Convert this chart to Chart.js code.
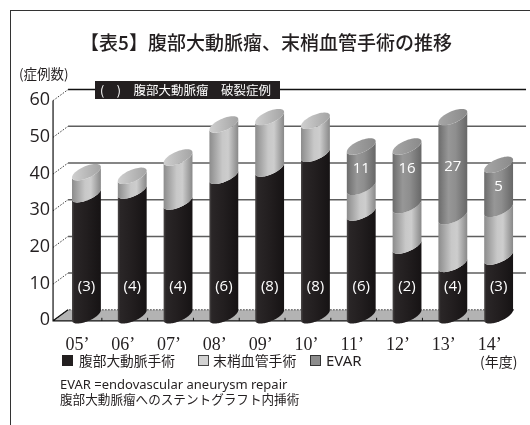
<!DOCTYPE html>
<html><head><meta charset="utf-8">
<script src="https://cdn.jsdelivr.net/npm/chart.js@4.4.1/dist/chart.umd.min.js"></script>
<style>
html,body{margin:0;padding:0;background:#fff;}
#wrap{position:relative;width:530px;height:425px;overflow:hidden;font-family:"Noto Sans CJK JP","Noto Sans",sans-serif;color:#231f20;}
canvas{position:absolute;left:0;top:0;}
.t{position:absolute;white-space:nowrap;line-height:1;}
.sq{position:absolute;width:9px;height:9px;box-sizing:content-box;}
</style></head><body>
<div id="wrap">
<canvas id="c" width="530" height="425"></canvas>
<div style="position:absolute;left:10px;top:10px;width:540px;height:440px;border-left:1px solid #333;border-top:1px solid #333;"></div>
<div class="t" style="left:266px;top:32px;transform:translateX(-50%);font-size:19px;font-weight:500;">【表5】腹部大動脈瘤、末梢血管手術の推移</div>
<div class="t" style="left:19px;top:67px;font-size:13.5px;">(症例数)</div>
<div class="t" style="left:95px;top:81px;width:185px;height:18px;background:#231f20;color:#fff;font-size:12.5px;line-height:18px;padding-left:5px;box-sizing:border-box;">(　)　腹部大動脈瘤　破裂症例</div>
<div class="sq" style="left:62px;top:355px;background:#231f20;border:1px solid #231f20;"></div>
<div class="t" style="left:79px;top:354px;font-size:13.7px;">腹部大動脈手術</div>
<div class="sq" style="left:198px;top:355px;background:#d2d2d2;border:1px solid #444;"></div>
<div class="t" style="left:213px;top:354px;font-size:13.9px;">末梢血管手術</div>
<div class="sq" style="left:310px;top:355px;background:#8c8c8c;border:1px solid #333;"></div>
<div class="t" style="left:326px;top:353px;font-size:15px;font-family:'Noto Sans',sans-serif;">EVAR</div>
<div class="t" style="left:480px;top:354px;font-size:14px;">(年度)</div>
<div class="t" style="left:60px;top:378px;font-size:13px;font-family:'Noto Sans',sans-serif;">EVAR =endovascular aneurysm repair</div>
<div class="t" style="left:60px;top:393px;font-size:12.6px;">腹部大動脈瘤へのステントグラフト内挿術</div>
</div>
<script>
const cats = ['05’','06’','07’','08’','09’','10’','11’','12’','13’','14’'];
const abdominal = [33, 34, 31, 38, 40, 44, 28, 19, 14, 16];
const peripheral = [6, 4, 12, 14, 14, 9, 7, 11, 13, 13];
const evar = [0, 0, 0, 0, 0, 0, 11, 16, 27, 12];
const ruptured = ['(3)','(4)','(4)','(6)','(8)','(8)','(6)','(2)','(4)','(3)'];
const evarLabels = ['','','','','','','11','16','27','5'];
const yMin = 0, yMax = 60, yStep = 10;

const D = 5.2, B = 6.4;      // ellipse tilt and half-height
const DX = 7.5, DY = 5.5;    // half depth offset

const sideStops = [
  [[0,'#4a4747'],[0.08,'#2a2627'],[0.5,'#221e1f'],[1,'#161314']],
  [[0,'#8c8c8c'],[0.45,'#c8c8c8'],[0.65,'#cdcdcd'],[1,'#888888']],
  [[0,'#6c6c6c'],[0.35,'#979797'],[0.6,'#8e8e8e'],[1,'#676767']]
];
const topStops = [
  [[0,'#3a3737'],[1,'#2a2627']],
  [[0,'#cfcfcf'],[1,'#a4a4a4']],
  [[0,'#a6a6a6'],[1,'#8a8a8a']]
];

function ellPt(cx, cy, r, t){ return [cx + r*Math.cos(t), cy - D*Math.cos(t) + B*Math.sin(t)]; }
function grad(ctx, x0, x1, stops){
  const g = ctx.createLinearGradient(x0, 0, x1, 0);
  stops.forEach(s => g.addColorStop(s[0], s[1]));
  return g;
}
function drawSide(ctx, cx, yb, yt, r, stops){
  const N = 40;
  ctx.beginPath();
  let p = ellPt(cx, yt, r, Math.PI); ctx.moveTo(p[0], p[1]);
  for (let k = 0; k <= N; k++){ p = ellPt(cx, yb, r, Math.PI - Math.PI*k/N); ctx.lineTo(p[0], p[1]); }
  for (let k = 0; k <= N; k++){ p = ellPt(cx, yt, r, Math.PI*k/N); ctx.lineTo(p[0], p[1]); }
  ctx.closePath();
  ctx.fillStyle = grad(ctx, cx - r, cx + r, stops);
  ctx.fill();
}
function drawTop(ctx, cx, yt, r, stops){
  const N = 60;
  ctx.beginPath();
  for (let k = 0; k <= N; k++){ const p = ellPt(cx, yt, r, 2*Math.PI*k/N); k ? ctx.lineTo(p[0], p[1]) : ctx.moveTo(p[0], p[1]); }
  ctx.closePath();
  ctx.fillStyle = grad(ctx, cx - r, cx + r, stops);
  ctx.fill();
}

const scene = {
  id: 'scene',
  beforeDatasetsDraw(chart){
    const ctx = chart.ctx, ca = chart.chartArea, ys = chart.scales.y;
    const axX = ca.left - 3, rightX = ca.right - 3, floorR = ca.right - 15;
    const y0 = ys.getPixelForValue(0);
    ctx.save();
    // floor
    ctx.beginPath();
    ctx.moveTo(axX - DX, y0 + DY); ctx.lineTo(floorR - DX, y0 + DY);
    ctx.lineTo(floorR + DX, y0 - DY); ctx.lineTo(axX + DX, y0 - DY); ctx.closePath();
    ctx.fillStyle = '#b3b3b3'; ctx.fill();
    ctx.setLineDash([1.5, 1.5]); ctx.strokeStyle = '#333'; ctx.lineWidth = 1;
    ctx.beginPath();
    ctx.moveTo(floorR - DX, y0 + DY); ctx.lineTo(floorR + DX, y0 - DY); ctx.lineTo(axX + DX, y0 - DY);
    ctx.stroke();
    // back grid + side dotted
    for (let v = yMin; v <= yMax; v += yStep){
      const yc = ys.getPixelForValue(v);
      if (v > 0){
        ctx.setLineDash([]);
        ctx.strokeStyle = v === yMax ? '#111' : '#5e5e5e';
        ctx.lineWidth = 1.5;
        ctx.beginPath(); ctx.moveTo(axX + DX, yc - DY); ctx.lineTo(rightX + DX, yc - DY); ctx.stroke();
      }
      ctx.setLineDash([1.5, 1.5]); ctx.strokeStyle = '#333'; ctx.lineWidth = 1;
      ctx.beginPath(); ctx.moveTo(axX - DX, yc + DY); ctx.lineTo(axX + DX, yc - DY); ctx.stroke();
    }
    // front axis + floor front edges
    ctx.setLineDash([]); ctx.strokeStyle = '#111'; ctx.lineWidth = 1.2;
    ctx.beginPath();
    ctx.moveTo(axX - DX, ys.getPixelForValue(yMax) + DY); ctx.lineTo(axX - DX, y0 + DY);
    ctx.lineTo(floorR - DX, y0 + DY);
    ctx.moveTo(axX - DX, y0 + DY); ctx.lineTo(axX + DX, y0 - DY);
    ctx.stroke();
    // small ticks on floor front edge
    const xs = chart.scales.x, n = cats.length, w = (xs.right - xs.left) / n;
    ctx.lineWidth = 1;
    ctx.beginPath();
    for (let i = 1; i < n; i++){
      const x = xs.left + i*w - DX;
      ctx.moveTo(x, y0 + DY); ctx.lineTo(x, y0 + DY - 3);
    }
    ctx.stroke();
    ctx.restore();
  },
  afterDatasetsDraw(chart){
    const ctx = chart.ctx;
    const metas = [0,1,2].map(i => chart.getDatasetMeta(i));
    ctx.save();
    for (let j = 0; j < cats.length; j++){
      let topIdx = -1;
      for (let d = 0; d < 3; d++){
        const el = metas[d].data[j];
        const pr = el.getProps(['x','y','base','width'], true);
        const r = pr.width / 2;
        if (Math.abs(pr.base - pr.y) < 0.5) continue;
        drawSide(ctx, pr.x, pr.base, pr.y, r, sideStops[d]);
        topIdx = d;
      }
      if (topIdx >= 0){
        const pr = metas[topIdx].data[j].getProps(['x','y','base','width'], true);
        drawTop(ctx, pr.x, pr.y, pr.width/2, topStops[topIdx]);
      }
      // labels
      ctx.fillStyle = '#fff';
      ctx.font = '15px "Open Sans"';
      ctx.textAlign = 'center'; ctx.textBaseline = 'middle';
      const p0 = metas[0].data[j].getProps(['x','y','base'], true);
      ctx.fillText(ruptured[j], p0.x, p0.base - 28.5);
      if (evarLabels[j]){
        const p2 = metas[2].data[j].getProps(['x','y','base'], true);
        const ly = Math.max(p2.y + 22, chart.scales.y.getPixelForValue(40.5));
        ctx.fillText(evarLabels[j], p2.x, ly);
      }
    }
    ctx.restore();
  }
};

const transparent = 'rgba(0,0,0,0)';
new Chart(document.getElementById('c'), {
  type: 'bar',
  data: {
    labels: cats,
    datasets: [
      { label: '腹部大動脈手術', data: abdominal, backgroundColor: transparent, borderWidth: 0 },
      { label: '末梢血管手術', data: peripheral, backgroundColor: transparent, borderWidth: 0 },
      { label: 'EVAR', data: evar, backgroundColor: transparent, borderWidth: 0 }
    ]
  },
  options: {
    responsive: false,
    animation: false,
    devicePixelRatio: 1,
    layout: { padding: { top: 95.1, bottom: 64.7, left: 13.55, right: 7.5 } },
    plugins: { legend: { display: false }, tooltip: { enabled: false }, title: { display: false } },
    datasets: { bar: { categoryPercentage: 1, barPercentage: 0.63 } },
    scales: {
      x: {
        stacked: true,
        grid: { display: false, drawTicks: false },
        border: { display: false },
        ticks: { color: '#231f20', font: { family: '"Liberation Serif"', size: 18 }, padding: 19, labelOffset: -9, maxRotation: 0, autoSkip: false },
        afterFit(s){ s.height = 45; }
      },
      y: {
        stacked: true, min: yMin, max: yMax,
        grid: { display: false, drawTicks: false },
        border: { display: false },
        ticks: { stepSize: yStep, color: '#231f20', font: { family: '"Open Sans"', size: 18 }, padding: 13.5, labelOffset: 5 },
        afterFit(s){ s.width = 50; }
      }
    }
  },
  plugins: [scene]
});
</script>
</body></html>
